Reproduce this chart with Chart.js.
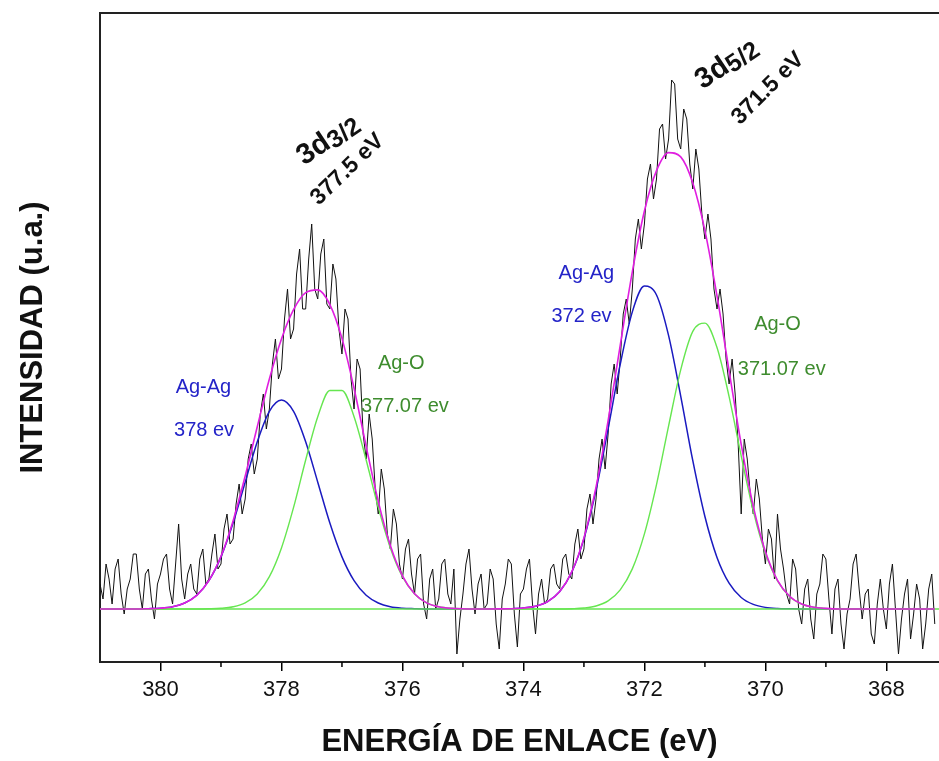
<!DOCTYPE html>
<html>
<head>
<meta charset="utf-8">
<script src="https://cdn.jsdelivr.net/npm/chart.js@4.4.1/dist/chart.umd.min.js"></script>
<style>
  html, body { margin: 0; padding: 0; background: #fff; }
</style>
</head>
<body>
<canvas id="grafico" width="939" height="761"></canvas>
<script>
// Espectro XPS Ag 3d: datos experimentales (cada 0.05 eV)
const energia = [
  381.0, 380.95, 380.9, 380.85, 380.8, 380.75, 380.7, 380.65, 380.6, 380.55, 380.5, 380.45, 380.4, 380.35, 380.3, 380.25, 380.2, 380.15, 380.1, 380.05,
  380.0, 379.95, 379.9, 379.85, 379.8, 379.75, 379.7, 379.65, 379.6, 379.55, 379.5, 379.45, 379.4, 379.35, 379.3, 379.25, 379.2, 379.15, 379.1, 379.05,
  379.0, 378.95, 378.9, 378.85, 378.8, 378.75, 378.7, 378.65, 378.6, 378.55, 378.5, 378.45, 378.4, 378.35, 378.3, 378.25, 378.2, 378.15, 378.1, 378.05,
  378.0, 377.95, 377.9, 377.85, 377.8, 377.75, 377.7, 377.65, 377.6, 377.55, 377.5, 377.45, 377.4, 377.35, 377.3, 377.25, 377.2, 377.15, 377.1, 377.05,
  377.0, 376.95, 376.9, 376.85, 376.8, 376.75, 376.7, 376.65, 376.6, 376.55, 376.5, 376.45, 376.4, 376.35, 376.3, 376.25, 376.2, 376.15, 376.1, 376.05,
  376.0, 375.95, 375.9, 375.85, 375.8, 375.75, 375.7, 375.65, 375.6, 375.55, 375.5, 375.45, 375.4, 375.35, 375.3, 375.25, 375.2, 375.15, 375.1, 375.05,
  375.0, 374.95, 374.9, 374.85, 374.8, 374.75, 374.7, 374.65, 374.6, 374.55, 374.5, 374.45, 374.4, 374.35, 374.3, 374.25, 374.2, 374.15, 374.1, 374.05,
  374.0, 373.95, 373.9, 373.85, 373.8, 373.75, 373.7, 373.65, 373.6, 373.55, 373.5, 373.45, 373.4, 373.35, 373.3, 373.25, 373.2, 373.15, 373.1, 373.05,
  373.0, 372.95, 372.9, 372.85, 372.8, 372.75, 372.7, 372.65, 372.6, 372.55, 372.5, 372.45, 372.4, 372.35, 372.3, 372.25, 372.2, 372.15, 372.1, 372.05,
  372.0, 371.95, 371.9, 371.85, 371.8, 371.75, 371.7, 371.65, 371.6, 371.55, 371.5, 371.45, 371.4, 371.35, 371.3, 371.25, 371.2, 371.15, 371.1, 371.05,
  371.0, 370.95, 370.9, 370.85, 370.8, 370.75, 370.7, 370.65, 370.6, 370.55, 370.5, 370.45, 370.4, 370.35, 370.3, 370.25, 370.2, 370.15, 370.1, 370.05,
  370.0, 369.95, 369.9, 369.85, 369.8, 369.75, 369.7, 369.65, 369.6, 369.55, 369.5, 369.45, 369.4, 369.35, 369.3, 369.25, 369.2, 369.15, 369.1, 369.05,
  369.0, 368.95, 368.9, 368.85, 368.8, 368.75, 368.7, 368.65, 368.6, 368.55, 368.5, 368.45, 368.4, 368.35, 368.3, 368.25, 368.2, 368.15, 368.1, 368.05,
  368.0, 367.95, 367.9, 367.85, 367.8, 367.75, 367.7, 367.65, 367.6, 367.55, 367.5, 367.45, 367.4, 367.35, 367.3, 367.25, 367.2
];
const intensidad = [
  25, 10, 45, 30, 5, 40, 50, 15, -5, 20, 30, 55, 55, 20, 0, 35, 40, 10, -10, 25,
  35, 50, 55, 20, 5, 45, 85, 30, 10, 35, 45, 20, 15, 50, 60, 25, 30, 55, 75, 40,
  45, 80, 95, 65, 70, 105, 125, 95, 110, 150, 165, 135, 150, 195, 215, 180, 200, 245, 270, 230,
  240, 290, 320, 270, 280, 335, 360, 300, 300, 350, 385, 320, 310, 355, 370, 305, 300, 345, 330, 280,
  255, 300, 290, 230, 200, 250, 240, 175, 150, 195, 170, 120, 95, 140, 120, 75, 60, 100, 85, 45,
  30, 60, 70, 35, 15, 50, 55, 5, -10, 30, 40, 0, 10, 45, 50, 15, 5, 40, -45, -10,
  15, 45, 60, 20, -5, 25, 35, 0, 5, 40, 30, -15, -40, 10, 25, 50, 45, -5, -38, 15,
  20, 40, 50, 5, -25, 15, 30, 5, 10, 40, 45, 25, 20, 50, 55, 35, 30, 65, 80, 50,
  60, 100, 115, 85, 110, 150, 170, 140, 175, 225, 245, 215, 250, 295, 310, 285, 320, 370, 390, 360,
  385, 430, 445, 410, 430, 480, 485, 450, 470, 529, 525, 470, 460, 500, 490, 445, 420, 460, 440, 395,
  370, 395, 370, 320, 300, 320, 295, 250, 225, 250, 215, 165, 95, 170, 150, 115, 95, 130, 110, 70,
  45, 80, 70, 30, 95, 60, 40, 15, 5, 50, 40, 0, -15, 20, 30, -10, -30, 15, 25, 55,
  50, 10, -25, 20, 30, -15, -40, -5, 10, 45, 55, 20, -10, 15, 20, -25, -35, 5, 30, 0,
  -20, 25, 45, 0, -45, -10, 15, 30, -30, -5, 25, 10, -40, -15, 20, 35, -15
];

// Curvas de ajuste
const ajusteX = [
  381.0, 380.6, 380.4, 380.2, 380.0, 379.8, 379.6, 379.4, 379.2, 379.0,
  378.8, 378.6, 378.4, 378.2, 378.0, 377.8, 377.6, 377.4, 377.2, 377.0,
  376.8, 376.6, 376.4, 376.2, 376.0, 375.8, 375.6, 375.4, 375.2, 374.8,
  374.6, 374.4, 374.2, 374.0, 373.8, 373.6, 373.4, 373.2, 373.0, 372.8,
  372.6, 372.4, 372.2, 372.0, 371.8, 371.6, 371.4, 371.2, 371.0, 370.8,
  370.6, 370.4, 370.2, 370.0, 369.8, 369.6, 369.4, 369.2, 369.0, 368.8,
  367.2
];
const agAg = [
  0, 0, 0, 0.3, 0.8, 2.3, 6.0, 13.7, 28.3, 52.1,
  85.9, 126.8, 167.3, 197.7, 209, 197.7, 167.3, 126.8, 85.9, 52.1,
  28.3, 13.7, 6.0, 2.3, 0.8, 0.3, 0, 0, 0, 0,
  0, 0.1, 0.3, 1.0, 2.8, 7.4, 17.5, 37.0, 70.1, 118.8,
  180.2, 244.6, 297.1, 322.9, 314.0, 273.3, 212.9, 148.3, 92.5, 51.6,
  25.8, 11.5, 4.6, 1.6, 0.5, 0.2, 0, 0, 0, 0,
  0
];
const agO = [
  0, 0, 0, 0, 0, 0, 0, 0, 0.2, 0.7,
  2.2, 6.1, 15.0, 32.3, 61.1, 101.6, 149.0, 192.3, 218.5, 218.5,
  192.3, 149.0, 101.6, 61.1, 32.3, 15.0, 6.1, 2.2, 0.7, 0,
  0, 0, 0, 0, 0, 0, 0, 0.3, 1.0, 3.0,
  8.1, 19.1, 40.1, 75.1, 124.4, 183.1, 239.2, 277.6, 285.9, 261.5,
  212.4, 153.1, 98.0, 55.8, 28.2, 12.6, 5.0, 1.8, 0.6, 0,
  0
];
const envolvente = [
  0, 0, 0, 0.3, 0.8, 2.3, 6.0, 13.7, 28.5, 52.8,
  88.1, 132.9, 182.3, 230.0, 270.1, 299.3, 316.3, 319.1, 304.4, 270.6,
  220.6, 162.7, 107.6, 63.4, 33.1, 15.3, 6.1, 2.2, 0.7, 0,
  0, 0.1, 0.3, 1.0, 2.8, 7.4, 17.5, 37.3, 71.1, 121.8,
  188.3, 263.7, 337.2, 398.0, 438.4, 456.4, 452.1, 425.9, 378.4, 313.1,
  238.2, 164.6, 102.6, 57.4, 28.7, 12.8, 5.0, 1.8, 0.6, 0,
  0
];
const lineaBaseX = [381.0, 367.13];
const lineaBaseY = [0, 0];

const ejeXMin = 367.13;
const ejeXMax = 381.0;
const ejeYMin = -53;
const ejeYMax = 596;

function puntos(xs, ys) {
  return xs.map((x, i) => ({ x: x, y: ys[i] }));
}

// Etiquetas de los picos (en coordenadas de datos)
const etiquetas = [
  { partes: [["3d", 29], ["3/2", 25]], x: 377.25, y: 471, color: "#111", bold: true, angulo: -34 },
  { partes: [["377.5 eV", 23]], x: 376.93, y: 441, color: "#111", bold: true, angulo: -44 },
  { partes: [["3d", 29], ["5/2", 25]], x: 370.66, y: 547, color: "#111", bold: true, angulo: -34 },
  { partes: [["371.5 eV", 23]], x: 369.98, y: 522, color: "#111", bold: true, angulo: -45 },
  { partes: [["Ag-Ag", 20]], x: 379.29, y: 223, color: "#2424c8", bold: false, angulo: 0 },
  { partes: [["378 ev", 20]], x: 379.28, y: 180, color: "#2424c8", bold: false, angulo: 0 },
  { partes: [["Ag-O", 20]], x: 376.02, y: 247, color: "#3e8c2e", bold: false, angulo: 0 },
  { partes: [["377.07 ev", 20]], x: 375.96, y: 204, color: "#3e8c2e", bold: false, angulo: 0 },
  { partes: [["Ag-Ag", 20]], x: 372.96, y: 337, color: "#2424c8", bold: false, angulo: 0 },
  { partes: [["372 ev", 20]], x: 373.04, y: 294, color: "#2424c8", bold: false, angulo: 0 },
  { partes: [["Ag-O", 20]], x: 369.80, y: 286, color: "#3e8c2e", bold: false, angulo: 0 },
  { partes: [["371.07 ev", 20]], x: 369.73, y: 241, color: "#3e8c2e", bold: false, angulo: 0 }
];

const FUENTE = "'Liberation Sans', Arial, sans-serif";

const pluginExtras = {
  id: "extras",
  afterDraw(chart) {
    const ctx = chart.ctx;
    const area = chart.chartArea;
    const sx = chart.scales.x;
    const sy = chart.scales.y;
    ctx.save();
    // borde superior
    ctx.strokeStyle = "#222";
    ctx.lineWidth = 2;
    ctx.beginPath();
    ctx.moveTo(area.left - 1, area.top);
    ctx.lineTo(area.right, area.top);
    ctx.stroke();
    // marcas menores
    ctx.lineWidth = 1.5;
    ctx.strokeStyle = "#000";
    sx.ticks.forEach(t => {
      if (Math.round(t.value) % 2 !== 0) {
        const px = sx.getPixelForValue(t.value);
        if (px <= area.left + 2 || px >= area.right - 2) return;
        ctx.beginPath();
        ctx.moveTo(px, area.bottom);
        ctx.lineTo(px, area.bottom + 5);
        ctx.stroke();
      }
    });
    // etiquetas
    etiquetas.forEach(e => {
      const cx = sx.getPixelForValue(e.x);
      const cy = sy.getPixelForValue(e.y);
      ctx.save();
      ctx.translate(cx, cy);
      ctx.rotate(e.angulo * Math.PI / 180);
      ctx.fillStyle = e.color;
      ctx.textBaseline = "alphabetic";
      ctx.textAlign = "left";
      const peso = e.bold ? "bold " : "";
      let total = 0;
      e.partes.forEach(p => {
        ctx.font = peso + p[1] + "px " + FUENTE;
        total += ctx.measureText(p[0]).width;
      });
      let px = -total / 2;
      const base = e.partes[0][1] * 0.36;
      e.partes.forEach((p, i) => {
        ctx.font = peso + p[1] + "px " + FUENTE;
        ctx.fillText(p[0], px, base + (i > 0 ? 3 : 0));
        px += ctx.measureText(p[0]).width;
      });
      ctx.restore();
    });
    ctx.restore();
  }
};

new Chart(document.getElementById("grafico"), {
  type: "line",
  data: {
    datasets: [
      {
        label: "Envolvente",
        data: puntos(ajusteX, envolvente),
        borderColor: "#e01ee0",
        borderWidth: 1.6,
        pointRadius: 0,
        cubicInterpolationMode: "monotone"
      },
      {
        label: "Línea base",
        data: puntos(lineaBaseX, lineaBaseY),
        borderColor: "#66e650",
        borderWidth: 1.4,
        pointRadius: 0
      },
      {
        label: "Ag-O",
        data: puntos(ajusteX, agO),
        borderColor: "#66e650",
        borderWidth: 1.4,
        pointRadius: 0,
        cubicInterpolationMode: "monotone"
      },
      {
        label: "Ag-Ag",
        data: puntos(ajusteX, agAg),
        borderColor: "#1a1ac0",
        borderWidth: 1.5,
        pointRadius: 0,
        cubicInterpolationMode: "monotone"
      },
      {
        label: "Experimental",
        data: puntos(energia, intensidad),
        borderColor: "#111",
        borderWidth: 1,
        pointRadius: 0,
        tension: 0
      }
    ]
  },
  options: {
    responsive: false,
    animation: false,
    layout: { padding: { top: 13, right: 0, left: 0, bottom: 0 } },
    plugins: {
      legend: { display: false },
      tooltip: { enabled: false }
    },
    scales: {
      x: {
        type: "linear",
        reverse: true,
        min: ejeXMin,
        max: ejeXMax,
        afterFit(scale) { scale.height = 99; },
        ticks: {
          stepSize: 1,
          includeBounds: false,
          autoSkip: false,
          maxRotation: 0,
          padding: 6,
          color: "#111",
          font: { family: FUENTE, size: 22 },
          callback: v => (Math.round(v) % 2 === 0 ? String(v) : "")
        },
        grid: {
          display: true,
          drawOnChartArea: false,
          drawTicks: true,
          tickLength: 9,
          lineWidth: 1.5,
          color: c => (c.tick && Math.round(c.tick.value) % 2 !== 0 ? "rgba(0,0,0,0)" : "#000")
        },
        border: { display: true, color: "#222", width: 2 },
        title: {
          display: true,
          text: "ENERGÍA DE ENLACE (eV)",
          color: "#111",
          font: { family: FUENTE, size: 31, weight: "bold" },
          padding: { top: 4, bottom: 0 }
        }
      },
      y: {
        type: "linear",
        min: ejeYMin,
        max: ejeYMax,
        afterFit(scale) { scale.width = 100; },
        ticks: { display: false },
        grid: { display: false },
        border: { display: true, color: "#222", width: 2 },
        title: {
          display: true,
          text: "INTENSIDAD (u.a.)",
          color: "#111",
          font: { family: FUENTE, size: 31, weight: "bold" },
          padding: { top: 15, bottom: 0 }
        }
      }
    }
  },
  plugins: [pluginExtras]
});
</script>
</body>
</html>
